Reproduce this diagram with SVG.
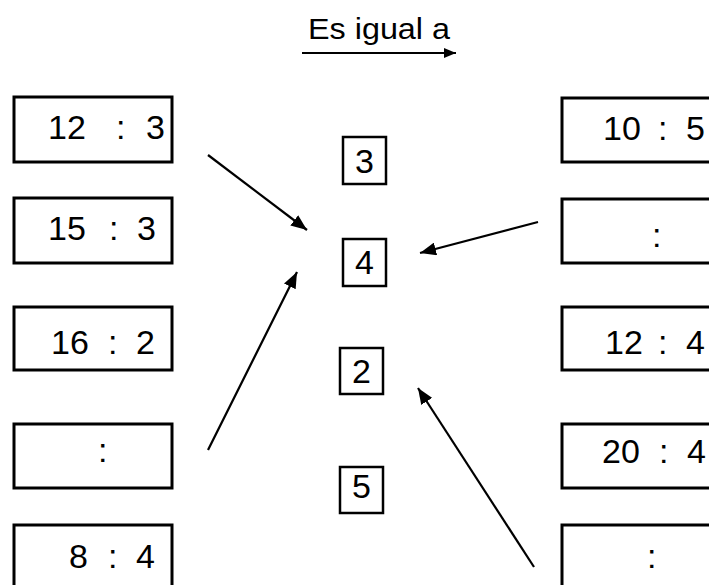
<svg xmlns="http://www.w3.org/2000/svg" width="709" height="585" viewBox="0 0 709 585">
  <style>
    .box { fill: #ffffff; stroke: #000000; stroke-width: 3; }
    .cbox { fill: #ffffff; stroke: #000000; stroke-width: 2.5; }
    .t { font-family: "Liberation Sans", Arial, sans-serif; font-size: 34px; fill: #000000; }
    .c { text-anchor: middle; }
    .title { font-family: "Liberation Sans", Arial, sans-serif; font-size: 29px; fill: #000000; }
    .arrow { stroke: #000000; stroke-width: 2.2; fill: none; marker-end: url(#head); }
  </style>
  <defs>
    <marker id="head" markerUnits="userSpaceOnUse" markerWidth="17" markerHeight="13" refX="16" refY="6.5" orient="auto">
      <path d="M0,0 L16,6.5 L0,13 z" fill="#000000"/>
    </marker>
    <marker id="headSmall" markerUnits="userSpaceOnUse" markerWidth="13" markerHeight="10" refX="12" refY="5" orient="auto">
      <path d="M0,0 L12,5 L0,10 z" fill="#000000"/>
    </marker>
  </defs>

  <!-- heading -->
  <g id="title">
    <text class="title" x="308" y="39" textLength="142" lengthAdjust="spacingAndGlyphs">Es igual a</text>
    <line x1="302" y1="53" x2="456" y2="53" stroke="#000000" stroke-width="2" marker-end="url(#headSmall)"/>
  </g>

  <!-- left column -->
  <g id="left-1">
    <rect class="box" x="14" y="97" width="158" height="65"/>
    <text class="t" y="139"><tspan x="48">12</tspan><tspan x="116">:</tspan><tspan x="146">3</tspan></text>
  </g>
  <g id="left-2">
    <rect class="box" x="14" y="198" width="158" height="65"/>
    <text class="t" y="240"><tspan x="48">15</tspan><tspan x="109">:</tspan><tspan x="137">3</tspan></text>
  </g>
  <g id="left-3">
    <rect class="box" x="14" y="307" width="158" height="63"/>
    <text class="t" y="354"><tspan x="51">16</tspan><tspan x="108">:</tspan><tspan x="136">2</tspan></text>
  </g>
  <g id="left-4">
    <rect class="box" x="14" y="424" width="158" height="64"/>
    <text class="t" y="462"><tspan x="98">:</tspan></text>
  </g>
  <g id="left-5">
    <rect class="box" x="14" y="525" width="158" height="72"/>
    <text class="t" y="568"><tspan x="69">8</tspan><tspan x="108">:</tspan><tspan x="136">4</tspan></text>
  </g>

  <!-- middle column -->
  <g id="mid-3">
    <rect class="cbox" x="343" y="137" width="43" height="47"/>
    <text class="t c" x="364.5" y="173">3</text>
  </g>
  <g id="mid-4">
    <rect class="cbox" x="343" y="239" width="43" height="47"/>
    <text class="t c" x="364.5" y="274">4</text>
  </g>
  <g id="mid-2">
    <rect class="cbox" x="340" y="348" width="43" height="46"/>
    <text class="t c" x="361.5" y="383">2</text>
  </g>
  <g id="mid-5">
    <rect class="cbox" x="340" y="467" width="43" height="46"/>
    <text class="t c" x="361.5" y="498">5</text>
  </g>

  <!-- right column -->
  <g id="right-1">
    <rect class="box" x="562" y="98" width="160" height="64"/>
    <text class="t" y="140"><tspan x="603">10</tspan><tspan x="658">:</tspan><tspan x="686">5</tspan></text>
  </g>
  <g id="right-2">
    <rect class="box" x="562" y="199" width="160" height="64"/>
    <text class="t" y="247"><tspan x="652">:</tspan></text>
  </g>
  <g id="right-3">
    <rect class="box" x="562" y="307" width="160" height="63"/>
    <text class="t" y="354"><tspan x="605">12</tspan><tspan x="658">:</tspan><tspan x="686">4</tspan></text>
  </g>
  <g id="right-4">
    <rect class="box" x="562" y="424" width="160" height="64"/>
    <text class="t" y="463"><tspan x="602">20</tspan><tspan x="659">:</tspan><tspan x="687">4</tspan></text>
  </g>
  <g id="right-5">
    <rect class="box" x="562" y="525" width="160" height="72"/>
    <text class="t" y="568"><tspan x="647">:</tspan></text>
  </g>

  <!-- connectors -->
  <g id="connectors">
    <line class="arrow" x1="208" y1="155" x2="307" y2="230"/>
    <line class="arrow" x1="208" y1="450" x2="297" y2="272"/>
    <line class="arrow" x1="538" y1="222" x2="420" y2="253"/>
    <line class="arrow" x1="534" y1="567" x2="418" y2="388"/>
  </g>
</svg>
